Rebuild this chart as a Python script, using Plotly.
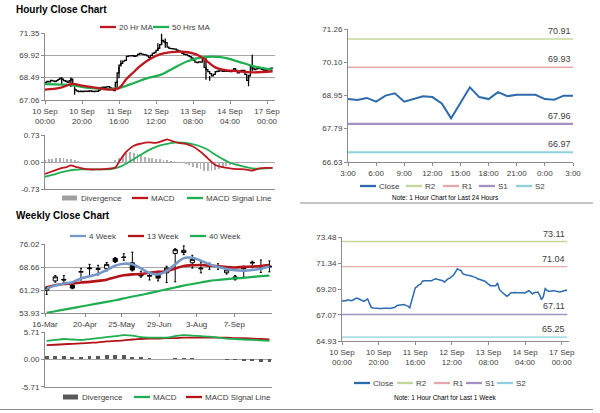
import plotly.graph_objects as go

W, H = 600, 413
FONT = "Liberation Sans, Arial, sans-serif"
TXT = "#404040"
AXC = "#8c8c8c"
GRID = "#a6a6a6"

# ---------------- DATA ----------------
hour_labels = ["10 Sep<br>00:00", "10 Sep<br>20:00", "11 Sep<br>16:00", "12 Sep<br>12:00",
               "13 Sep<br>08:00", "14 Sep<br>04:00", "17 Sep<br>00:00"]
hour_label_idx = [0, 20, 40, 60, 80, 100, 120]

hourly_close = [
    68.19, 68.25, 68.22, 68.32, 68.28, 68.24, 68.30, 68.38, 68.46, 68.40,
    68.30, 68.26, 68.19, 68.30, 68.40, 68.02, 67.70, 67.64, 67.60, 67.62,
    67.60, 67.63, 67.61, 67.62, 67.64, 67.62, 67.60, 67.63, 67.62, 67.70,
    67.85, 67.88, 67.86, 67.90, 67.92, 67.84, 67.80, 67.66, 68.19, 68.80,
    69.29, 69.40, 69.55, 69.60, 69.85, 69.89, 69.88, 69.90, 69.86, 69.89,
    69.98, 70.05, 70.00, 69.96, 69.95, 69.88, 69.78, 69.92, 70.05, 70.10,
    70.24, 70.37, 70.60, 70.87, 70.78, 70.73, 70.45, 70.37, 70.35, 70.33,
    70.32, 70.25, 70.20, 70.16, 70.05, 69.98, 69.97, 69.90, 69.84, 69.75,
    69.60, 69.48, 69.46, 69.50, 69.48, 69.70, 69.15, 69.00, 68.88, 68.75,
    68.60, 68.70, 68.88, 68.90, 68.93, 68.92, 68.90, 68.92, 68.89, 68.90,
    68.88, 68.95, 69.06, 68.95, 68.80, 68.90, 68.96, 68.96, 68.70, 68.32,
    68.60, 69.23, 69.10, 69.01, 69.05, 69.08, 69.07, 69.02, 68.98, 68.96,
    69.00, 69.07, 69.10, 69.08]

wick_idx = [9, 14, 16, 39, 40, 41, 61, 63, 65, 87, 89, 110, 112]
wick_high = [68.51, 68.50, 67.83, 68.30, 69.20, 69.60, 70.70, 71.30, 71.00, 69.75, 68.60, 68.68, 69.96]
wick_low = [68.04, 67.90, 67.40, 67.75, 68.45, 69.20, 70.20, 70.60, 70.40, 68.36, 68.30, 67.94, 68.90]

ma20_idx = [0, 8, 15, 20, 28, 36, 40, 44, 48, 51, 57, 62, 68, 74, 80, 84, 88, 92, 96, 104, 113, 123]
ma20_val = [67.72, 67.83, 68.09, 67.98, 67.83, 67.72, 67.83, 68.40, 68.85, 69.20, 69.70, 69.98, 70.12,
            70.15, 70.05, 69.85, 69.50, 69.15, 69.00, 68.90, 68.83, 68.90]
ma50_idx = [0, 15, 24, 33, 39, 48, 55, 62, 68, 77, 86, 95, 104, 113, 123]
ma50_val = [68.08, 68.00, 67.83, 67.76, 67.80, 68.15, 68.45, 68.65, 69.00, 69.54, 69.80, 69.80,
            69.54, 69.22, 69.00]

macd_idx = [0, 4, 8, 12, 14, 16, 20, 24, 28, 32, 36, 38, 40, 44, 48, 52, 56, 60, 64, 66, 68, 72,
            76, 80, 84, 88, 92, 96, 100, 104, 108, 112, 116, 120, 123]
macd_val = [-0.32, -0.25, -0.18, -0.13, -0.09, -0.12, -0.17, -0.20, -0.20, -0.19, -0.17, -0.15, 0.00,
            0.28, 0.44, 0.50, 0.53, 0.52, 0.58, 0.61, 0.58, 0.52, 0.49, 0.42, 0.28, 0.10, -0.08,
            -0.14, -0.17, -0.19, -0.20, -0.23, -0.17, -0.16, -0.16]
signal_idx = [0, 4, 8, 12, 16, 20, 24, 28, 32, 36, 40, 44, 48, 52, 56, 60, 64, 68, 72, 76, 80, 84,
              88, 92, 96, 100, 104, 108, 112, 116, 120, 123]
signal_val = [-0.40, -0.35, -0.29, -0.24, -0.21, -0.20, -0.20, -0.20, -0.20, -0.19, -0.14, -0.04,
              0.08, 0.20, 0.32, 0.41, 0.47, 0.51, 0.53, 0.52, 0.48, 0.42, 0.33, 0.20, 0.08, -0.02,
              -0.08, -0.13, -0.17, -0.18, -0.17, -0.16]
div_idx = list(range(0, 124, 2))
div_val = [0.06, 0.08, 0.09, 0.10, 0.10, 0.10, 0.09, 0.08, 0.05, 0.03, 0.01, 0.00, -0.01, 0.00,
           0.00, 0.01, 0.00, 0.01, 0.00, 0.05, 0.12, 0.20, 0.24, 0.26, 0.25, 0.22, 0.18, 0.14,
           0.12, 0.10, 0.08, 0.07, 0.06, 0.06, 0.04, 0.02, 0.00, -0.03, -0.06, -0.09, -0.13,
           -0.16, -0.20, -0.23, -0.25, -0.24, -0.22, -0.18, -0.14, -0.10, -0.08, -0.06, -0.05,
           -0.04, -0.04, -0.03, -0.04, -0.02, -0.01, 0.00, 0.00, 0.00]

a_ticks = [67.06, 68.49, 69.92, 71.35]
b_ticks = [-0.73, 0.00, 0.73]

# last 24 hours
day_labels = ["3:00", "6:00", "9:00", "12:00", "15:00", "18:00", "21:00", "0:00", "3:00"]
day_close = [68.82, 68.79, 68.86, 68.73, 68.94, 69.02, 68.73, 68.82, 68.92, 68.89, 68.67, 68.15,
             68.70, 69.23, 68.89, 68.82, 69.06, 68.92, 68.97, 68.97, 68.97, 68.82, 68.80, 68.94, 68.94]
day_levels = {"R2": 70.91, "R1": 69.93, "S1": 67.96, "S2": 66.97}
c_ticks = [66.63, 67.79, 68.95, 70.10, 71.26]

# weekly
week_labels = ["16-Mar", "20-Apr", "25-May", "29-Jun", "3-Aug", "7-Sep"]
week_label_pos = [-0.2, 4.47, 8.75, 13.14, 17.5, 21.9]
week_open = [61.3, 64.3, 64.8, 63.0, 67.1, 68.2, 68.0, 68.3, 71.5, 71.8, 70.1, 66.6, 65.8, 66.2,
             66.9, 73.1, 73.4, 70.1, 68.4, 69.0, 69.2, 66.9, 64.9, 68.2, 70.0, 68.2, 68.8]
week_close = [62.1, 65.6, 64.6, 62.0, 67.3, 68.4, 68.2, 69.6, 70.5, 71.9, 67.8, 65.9, 66.0, 65.2,
              68.4, 74.3, 74.1, 71.2, 68.2, 69.1, 69.0, 67.8, 65.6, 68.4, 70.2, 68.4, 69.0]
week_high = [62.5, 66.0, 66.0, 63.5, 68.3, 69.6, 69.3, 70.2, 71.8, 73.0, 73.5, 67.4, 67.0, 67.4,
             69.0, 74.6, 75.5, 72.5, 70.3, 70.0, 69.8, 68.5, 66.0, 69.0, 70.6, 71.0, 70.7]
week_low = [60.0, 63.9, 63.8, 61.8, 64.6, 65.7, 66.2, 67.5, 70.2, 70.9, 67.5, 65.5, 64.6, 64.3,
            63.8, 64.0, 72.7, 68.4, 66.9, 68.0, 68.0, 66.5, 64.6, 65.5, 68.5, 67.0, 67.2]
ma4 = [61.9, 62.8, 63.5, 63.9, 65.1, 65.8, 66.5, 67.8, 69.2, 69.8, 69.6, 68.3, 66.8, 66.4, 67.4,
       69.6, 71.6, 71.7, 70.8, 69.6, 68.8, 68.1, 67.7, 67.6, 67.8, 68.2, 68.9]
ma13 = [62.3, 62.9, 63.3, 63.5, 63.8, 64.0, 64.3, 64.7, 65.5, 66.1, 66.4, 66.5, 66.9, 67.2, 67.4,
        68.3, 69.1, 69.3, 69.4, 69.2, 69.0, 68.7, 68.6, 68.8, 68.9, 69.1, 69.4]
ma40 = [54.1, 54.6, 55.1, 55.6, 56.1, 56.6, 57.1, 57.6, 58.1, 58.7, 59.3, 59.8, 60.4, 61.0, 61.6,
        62.2, 62.8, 63.3, 63.8, 64.3, 64.6, 64.9, 65.1, 65.3, 65.6, 65.8, 66.0]
wk_macd = [3.9, 4.1, 4.3, 4.2, 4.1, 4.3, 4.5, 4.7, 4.9, 5.1, 5.0, 4.7, 4.6, 4.6, 4.6, 4.9, 5.1,
           5.0, 4.9, 4.8, 4.6, 4.4, 4.3, 4.2, 4.1, 4.0, 3.9]
wk_signal = [3.0, 3.1, 3.2, 3.3, 3.4, 3.5, 3.6, 3.8, 3.9, 4.0, 4.2, 4.3, 4.4, 4.4, 4.5, 4.5, 4.6,
             4.6, 4.6, 4.6, 4.6, 4.6, 4.5, 4.5, 4.4, 4.3, 4.2]
wk_div = [0.7, 0.7, 0.7, 0.6, 0.6, 0.7, 0.7, 0.9, 0.9, 0.9, 0.6, 0.5, 0.3, 0.2, 0.15, 0.3, 0.4,
          0.3, 0.2, 0.1, 0.05, -0.05, -0.2, -0.3, -0.4, -0.45, -0.5]
d_ticks = [53.93, 61.29, 68.66, 76.02]
e_ticks = [-5.71, 0.00, 5.71]

# week of hourly data with pivot levels
week_levels = {"R2": 73.11, "R1": 71.04, "S1": 67.11, "S2": 65.25}
f_ticks = [64.93, 67.07, 69.20, 71.34, 73.48]

# ---------------- COLOURS ----------------
RED = "#c0161e"
GREEN = "#1fae50"
LEVEL_COL = {"R2": "#c4d79b", "R1": "#e6a9ab", "S1": "#a590c4", "S2": "#8fd0de"}
CLOSE_COL = "#2c6cae"


def xd(x0, x1):
    return [x0 / W, x1 / W]


def yd(top, bot):
    return [1 - bot / H, 1 - top / H]


fig = go.Figure()

# ---- A: hourly close bars + MAs
hourly_x = list(range(len(hourly_close)))
fig.add_trace(go.Scatter(x=hourly_x, y=hourly_close, mode="lines", line=dict(color="black", width=1.3, shape="hv"),
                         xaxis="x", yaxis="y", showlegend=False, name="Hourly"))
wx, wy = [], []
for i, hi, lo in zip(wick_idx, wick_high, wick_low):
    wx += [i, i, None]
    wy += [lo, hi, None]
fig.add_trace(go.Scatter(x=wx, y=wy, mode="lines", line=dict(color="black", width=1.3),
                         xaxis="x", yaxis="y", showlegend=False))
fig.add_trace(go.Scatter(x=ma50_idx, y=ma50_val, mode="lines", line=dict(color=GREEN, width=2.3, shape="spline"),
                         xaxis="x", yaxis="y", name="50 Hrs MA", showlegend=False))
fig.add_trace(go.Scatter(x=ma20_idx, y=ma20_val, mode="lines", line=dict(color=RED, width=2.3, shape="spline"),
                         xaxis="x", yaxis="y", name="20 Hr MA", showlegend=False))

# ---- B: hourly MACD
fig.add_trace(go.Bar(x=div_idx, y=div_val, marker=dict(color="#b0b0b0", line=dict(width=0)), width=1.0,
                     xaxis="x2", yaxis="y2", name="Divergence", showlegend=False))
fig.add_trace(go.Scatter(x=signal_idx, y=signal_val, mode="lines", line=dict(color=GREEN, width=1.8, shape="spline"),
                         xaxis="x2", yaxis="y2", name="MACD Signal Line", showlegend=False))
fig.add_trace(go.Scatter(x=macd_idx, y=macd_val, mode="lines", line=dict(color=RED, width=1.8, shape="spline"),
                         xaxis="x2", yaxis="y2", name="MACD", showlegend=False))

# ---- C: last 24 hours
day_x = list(range(len(day_close)))
for k, v in day_levels.items():
    fig.add_trace(go.Scatter(x=[day_x[0], day_x[-1]], y=[v, v], mode="lines",
                             line=dict(color=LEVEL_COL[k], width=2.2 if k.startswith("S") else 1.6),
                             xaxis="x3", yaxis="y3", name=k, showlegend=False))
fig.add_trace(go.Scatter(x=day_x, y=day_close, mode="lines", line=dict(color=CLOSE_COL, width=2),
                         xaxis="x3", yaxis="y3", name="Close", showlegend=False))

# ---- D: weekly candles
week_x = list(range(len(week_close)))
fig.add_trace(go.Candlestick(x=week_x, open=week_open, high=week_high, low=week_low, close=week_close,
                             increasing=dict(line=dict(color="black", width=1), fillcolor="white"),
                             decreasing=dict(line=dict(color="black", width=1), fillcolor="black"),
                             whiskerwidth=0.5, xaxis="x4", yaxis="y4", showlegend=False, name="Weekly"))
fig.add_trace(go.Scatter(x=week_x, y=ma40, mode="lines", line=dict(color=GREEN, width=2.2, shape="spline"),
                         xaxis="x4", yaxis="y4", name="40 Week", showlegend=False))
fig.add_trace(go.Scatter(x=week_x, y=ma13, mode="lines", line=dict(color="#b3141a", width=2.6, shape="spline"),
                         xaxis="x4", yaxis="y4", name="13 Week", showlegend=False))
fig.add_trace(go.Scatter(x=week_x, y=ma4, mode="lines", line=dict(color="#7497c9", width=2.6, shape="spline"),
                         xaxis="x4", yaxis="y4", name="4 Week", showlegend=False))

# ---- E: weekly MACD
fig.add_trace(go.Bar(x=week_x, y=wk_div, marker=dict(color="#595959", line=dict(width=0)), width=0.45,
                     xaxis="x5", yaxis="y5", name="Divergence", showlegend=False))
fig.add_trace(go.Scatter(x=week_x, y=wk_signal, mode="lines", line=dict(color="#b3141a", width=1.8, shape="spline"),
                         xaxis="x5", yaxis="y5", name="MACD Signal Line", showlegend=False))
fig.add_trace(go.Scatter(x=week_x, y=wk_macd, mode="lines", line=dict(color=GREEN, width=1.8, shape="spline"),
                         xaxis="x5", yaxis="y5", name="MACD", showlegend=False))

# ---- F: last week hourly close with levels
for k, v in week_levels.items():
    fig.add_trace(go.Scatter(x=[hourly_x[0], hourly_x[-1]], y=[v, v], mode="lines",
                             line=dict(color=LEVEL_COL[k], width=1.3),
                             xaxis="x6", yaxis="y6", name=k, showlegend=False))
fig.add_trace(go.Scatter(x=hourly_x, y=hourly_close, mode="lines", line=dict(color=CLOSE_COL, width=1.5),
                         xaxis="x6", yaxis="y6", name="Close", showlegend=False))

tickfont = dict(family=FONT, size=8, color=TXT)


def fmt(vals):
    return [f"{v:.2f}" for v in vals]


def xaxis(dom, rng, anchor, tickvals=None, ticktext=None, labels=True):
    return dict(domain=dom, range=rng, anchor=anchor, showgrid=False, zeroline=False, automargin=False,
                showline=True, linecolor=AXC, linewidth=1, ticks="outside" if labels else "",
                ticklen=3, tickcolor=AXC, tickvals=tickvals, ticktext=ticktext,
                showticklabels=labels, tickfont=tickfont, fixedrange=True)


def yaxis(dom, ticks, anchor, grid):
    return dict(domain=dom, range=[ticks[0], ticks[-1]], anchor=anchor, tickvals=ticks, ticktext=fmt(ticks),
                showgrid=grid, gridcolor=GRID, gridwidth=1, zeroline=False, showline=True, automargin=False,
                linecolor=AXC, ticks="outside", ticklen=3, tickcolor=AXC, tickfont=tickfont, fixedrange=True)


n_h = len(hourly_close)
n_w = len(week_close)
fig.update_layout(
    template="none",
    width=W, height=H, margin=dict(l=0, r=0, t=0, b=0, pad=0, autoexpand=False),
    paper_bgcolor="white", plot_bgcolor="white", showlegend=False,
    font=dict(family=FONT, size=8, color=TXT),
    bargap=0,
    xaxis=xaxis(xd(45, 275), [0, n_h + 0.3], "y", hour_label_idx, hour_labels),
    yaxis=yaxis(yd(33, 100), a_ticks, "x", True),
    xaxis2=xaxis(xd(45, 275), [0, n_h + 0.3], "y2", labels=False),
    yaxis2=yaxis(yd(135, 189), b_ticks, "x2", True),
    xaxis3=xaxis(xd(348, 573), [0, len(day_close) - 1], "y3", list(range(0, len(day_close), 3)), day_labels),
    yaxis3=yaxis(yd(29, 162), c_ticks, "x3", False),
    xaxis4=xaxis(xd(45, 272), [-0.2, n_w - 0.7], "y4", week_label_pos, week_labels),
    yaxis4=yaxis(yd(244.3, 313.3), d_ticks, "x4", True),
    xaxis5=xaxis(xd(45, 272), [-0.2, n_w - 0.7], "y5", labels=False),
    yaxis5=yaxis(yd(332.3, 386.7), e_ticks, "x5", True),
    xaxis6=xaxis(xd(342, 569), [0, n_h], "y6", hour_label_idx, hour_labels),
    yaxis6=yaxis(yd(237, 341), f_ticks, "x6", False),
)
fig.layout.xaxis4.rangeslider = dict(visible=False)

shapes, annots = [], []


def px_x(x):
    return x / W


def px_y(y):
    return 1 - y / H


def legend(entries, y):
    for label, color, kind, x0 in entries:
        if kind == "bar":
            shapes.append(dict(type="rect", xref="paper", yref="paper", x0=px_x(x0), x1=px_x(x0 + 15),
                               y0=px_y(y + 2.5), y1=px_y(y - 2.5), fillcolor=color, line=dict(width=0)))
        else:
            shapes.append(dict(type="line", xref="paper", yref="paper", x0=px_x(x0), x1=px_x(x0 + 16),
                               y0=px_y(y), y1=px_y(y), line=dict(color=color, width=2.3)))
        annots.append(dict(x=px_x(x0 + 17), y=px_y(y), xref="paper", yref="paper", text=label,
                           showarrow=False, xanchor="left", yanchor="middle",
                           font=dict(family=FONT, size=8, color=TXT)))


legend([("20 Hr MA", RED, "line", 100), ("50 Hrs MA", GREEN, "line", 153)], 27)
legend([("Divergence", "#a0a0a0", "bar", 62), ("MACD", RED, "line", 132),
        ("MACD Signal Line", GREEN, "line", 187)], 198)
legend([("Close", CLOSE_COL, "line", 360), ("R2", LEVEL_COL["R2"], "line", 406), ("R1", LEVEL_COL["R1"], "line", 443),
        ("S1", LEVEL_COL["S1"], "line", 479), ("S2", LEVEL_COL["S2"], "line", 516)], 186)
legend([("4 Week", "#7497c9", "line", 70), ("13 Week", "#b3141a", "line", 128),
        ("40 Week", GREEN, "line", 190)], 236)
legend([("Divergence", "#595959", "bar", 63), ("MACD", GREEN, "line", 134),
        ("MACD Signal Line", "#b3141a", "line", 186)], 397)
legend([("Close", CLOSE_COL, "line", 354), ("R2", LEVEL_COL["R2"], "line", 397), ("R1", LEVEL_COL["R1"], "line", 434),
        ("S1", LEVEL_COL["S1"], "line", 466), ("S2", LEVEL_COL["S2"], "line", 497)], 383)

# pivot value labels
for k, v in day_levels.items():
    annots.append(dict(x=day_x[-1], y=v, xref="x3", yref="y3", text=f"{v:.2f}", showarrow=False,
                       xanchor="right", yanchor="bottom", yshift=1, font=dict(family=FONT, size=9, color=TXT)))
for k, v in week_levels.items():
    annots.append(dict(x=hourly_x[-1], y=v, xref="x6", yref="y6", text=f"{v:.2f}", showarrow=False,
                       xanchor="right", yanchor="bottom", yshift=1, font=dict(family=FONT, size=9, color=TXT)))

# titles and notes
for text, y in [("Hourly Close Chart", 9.5), ("Weekly Close Chart", 215)]:
    annots.append(dict(x=px_x(14), y=px_y(y), xref="paper", yref="paper", text=f"<b>{text}</b>",
                       showarrow=False, xanchor="left", yanchor="middle",
                       font=dict(family=FONT, size=10, color="black")))
for text, y in [("Note: 1 Hour Chart for Last 24 Hours", 197), ("Note: 1 Hour Chart for Last 1 Week", 397)]:
    annots.append(dict(x=px_x(445), y=px_y(y), xref="paper", yref="paper", text=text, showarrow=False,
                       xanchor="center", yanchor="middle", font=dict(family=FONT, size=6.5, color="black")))

# separators
for y, x0 in [(203, 300), (409.5, 0)]:
    shapes.append(dict(type="line", xref="paper", yref="paper", x0=px_x(x0), x1=px_x(593),
                       y0=px_y(y), y1=px_y(y), line=dict(color="#8c8c8c", width=1)))

fig.update_layout(shapes=shapes, annotations=annots)
fig.write_html("out.html", config={"displayModeBar": False, "staticPlot": True},
               post_script="document.body.style.margin='0px';")
